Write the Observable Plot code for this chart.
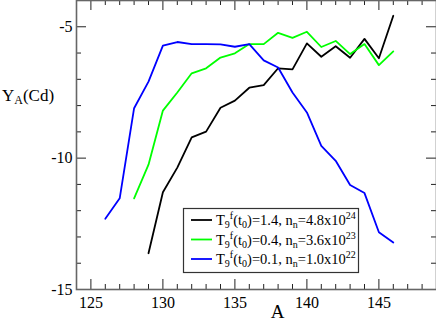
<!DOCTYPE html>
<html>
<head>
<meta charset="utf-8">
<script src="https://cdn.jsdelivr.net/npm/d3@7"></script>
<script src="https://cdn.jsdelivr.net/npm/@observablehq/plot@0.6"></script>
<style>
  html, body { margin: 0; padding: 0; background: #fff; }
  svg { display: block; }
  svg text, svg tspan { font-family: "Liberation Serif", "Times New Roman", Times, "DejaVu Serif", serif !important; }
</style>
</head>
<body>
<div id="chart"></div>
<script>
// ---- data ----
const blackA = [129,130,131,132,133,134,135,136,137,138,139,140,141,142,143,144,145,146];
const blackY = [-13.62,-11.3,-10.36,-9.21,-8.99,-8.08,-7.81,-7.32,-7.22,-6.58,-6.62,-5.63,-6.14,-5.74,-6.18,-5.46,-6.2,-4.58];
const greenA = [128,129,130,131,132,133,134,135,136,137,138,139,140,141,142,143,144,145,146];
const greenY = [-11.53,-10.25,-8.19,-7.5,-6.77,-6.58,-6.17,-6.01,-5.66,-5.66,-5.23,-5.42,-5.19,-5.77,-5.54,-6.04,-5.66,-6.46,-5.94];
const blueA = [126,127,128,129,130,131,132,133,134,135,136,137,138,139,140,141,142,143,144,145,146];
const blueY = [-12.31,-11.53,-8.1,-7.09,-5.72,-5.58,-5.66,-5.66,-5.67,-5.76,-5.66,-6.28,-6.55,-7.5,-8.26,-9.53,-10.1,-11.02,-11.33,-12.82,-13.21];

const seriesNames = ["T1.4", "T0.4", "T0.1"];
const seriesColors = ["#000000", "#00ff00", "#0000ff"];
const legendT = ["1.4", "0.4", "0.1"];
const legendN = ["4.8", "3.6", "1.0"];
const legendExp = ["24", "23", "22"];

const xMajor = [125, 130, 135, 140, 145];
const xMinor = [126,127,128,129,131,132,133,134,136,137,138,139,141,142,143,144,146,147,148];
const yMajor = [-15, -10, -5];
const yMinor = [-14,-13,-12,-11,-9,-8,-7,-6];

const rows = [];
[[blackA, blackY], [greenA, greenY], [blueA, blueY]].forEach(([xs, ys], i) => {
  xs.forEach((a, j) => rows.push({series: seriesNames[i], A: a, Y: ys[j]}));
});

const font = "Liberation Serif, Times New Roman, serif";
const W = 436, H = 324, mL = 76, mR = 0, mT = 0, mB = 35;
const innerH = H - mT - mB, innerW = W - mL - mR;
const tickCol = "#222";

const chart = Plot.plot({
  width: W,
  height: H,
  marginLeft: mL,
  marginRight: mR,
  marginTop: mT,
  marginBottom: mB,
  style: {fontFamily: font, fontSize: "16px", background: "#fff", color: "#000"},
  x: {domain: [124, 149], label: null},
  y: {domain: [-15, -4], label: null},
  color: {domain: seriesNames, range: seriesColors},
  marks: [
    Plot.line(rows, {x: "A", y: "Y", z: "series", stroke: "series", strokeWidth: 1.8}),
    // inward ticks
    Plot.tickX(xMajor, {x: d => d, insetTop: innerH - 10, stroke: tickCol}),
    Plot.tickX(xMinor, {x: d => d, insetTop: innerH - 5, stroke: tickCol}),
    Plot.tickX(xMajor, {x: d => d, insetBottom: innerH - 10, stroke: tickCol}),
    Plot.tickX(xMinor, {x: d => d, insetBottom: innerH - 5, stroke: tickCol}),
    Plot.tickY(yMajor, {y: d => d, insetRight: innerW - 10, stroke: tickCol}),
    Plot.tickY(yMinor, {y: d => d, insetRight: innerW - 5, stroke: tickCol}),
    Plot.tickY(yMajor, {y: d => d, insetLeft: innerW - 10, stroke: tickCol}),
    Plot.tickY(yMinor, {y: d => d, insetLeft: innerW - 5, stroke: tickCol}),
    // tick labels
    Plot.axisX(xMajor, {anchor: "bottom", tickSize: 0, tickPadding: 7, label: null, fontSize: 16}),
    Plot.axisY(yMajor, {anchor: "left", tickSize: 0, tickPadding: 4, label: null, fontSize: 16, tickFormat: d => String(d)}),
    Plot.frame({stroke: "#666", strokeWidth: 1.6}),
    Plot.text(["A"], {frameAnchor: "bottom", dx: 21, dy: 28, fontSize: 19, text: d => d})
  ]
});

document.getElementById("chart").appendChild(chart);

// Y label with subscript
const svg = d3.select(chart);
const yl = svg.append("text")
  .attr("x", 2).attr("y", 101).attr("text-anchor", "start")
  .attr("font-size", 17).attr("fill", "#000");
yl.append("tspan").text("Y");
yl.append("tspan").attr("font-size", 12).attr("dy", 3).text("A");
yl.append("tspan").attr("dy", -3).text("(Cd)");

// Legend
const lg = svg.append("g").attr("font-size", 14.5).attr("fill", "#000").attr("text-anchor", "start");
lg.append("rect").attr("x", 183.5).attr("y", 208.5).attr("width", 175).attr("height", 64)
  .attr("fill", "#fff").attr("stroke", "#333").attr("stroke-width", 1.2);
seriesNames.forEach((s, i) => {
  const cy = 220 + i * 19.5;
  lg.append("line").attr("x1", 191).attr("x2", 212).attr("y1", cy).attr("y2", cy)
    .attr("stroke", seriesColors[i]).attr("stroke-width", 1.8);
  const t = lg.append("text").attr("x", 216).attr("y", cy + 5).attr("text-anchor", "start");
  t.append("tspan").text("T");
  t.append("tspan").attr("font-size", 10).attr("dy", 3).text("9");
  t.append("tspan").attr("font-size", 10).attr("dy", -9).text("f");
  t.append("tspan").attr("dy", 6).text("(t");
  t.append("tspan").attr("font-size", 10).attr("dy", 3).text("0");
  t.append("tspan").attr("dy", -3).text(")=" + legendT[i] + ", n");
  t.append("tspan").attr("font-size", 10).attr("dy", 3).text("n");
  t.append("tspan").attr("dy", -3).text("=" + legendN[i] + "x10");
  t.append("tspan").attr("font-size", 10).attr("dy", -6).text(legendExp[i]);
});
</script>
</body>
</html>
